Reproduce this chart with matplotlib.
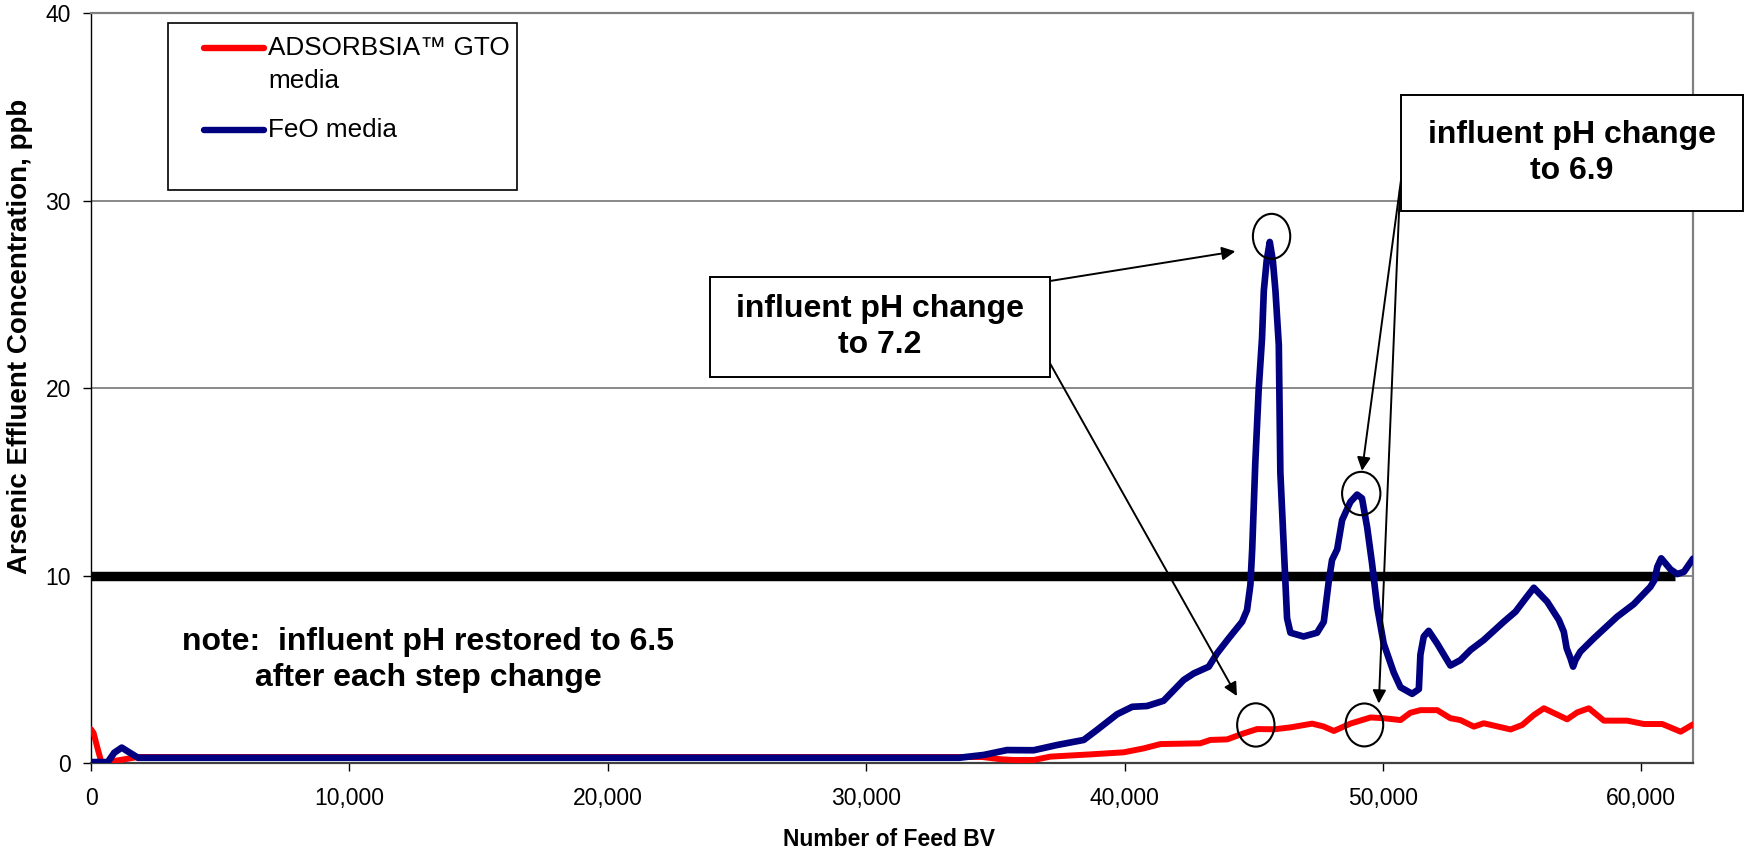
import matplotlib
matplotlib.use('Agg')
import matplotlib.pyplot as plt
from matplotlib.patches import Rectangle, Ellipse
from matplotlib.lines import Line2D
from matplotlib.ticker import FuncFormatter

plt.rcParams['font.family'] = ['Liberation Sans', 'DejaVu Sans']

# ---------------- data ----------------
feo_x = [0, 650, 900, 1190, 1500, 1820, 33600, 34550, 35450, 36480, 37390, 38420,
         38930, 39710, 40300, 40870, 41510, 42290, 42680, 43260, 43580, 44030,
         44550, 44740, 44870, 44940, 45060, 45190, 45320, 45390, 45500, 45620,
         45740, 45840, 45970, 46030, 46160, 46290, 46420, 46930, 47450, 47710,
         47900, 48030, 48230, 48420, 48740, 49000, 49190, 49390, 49580, 49780,
         50030, 50420, 50680, 51130, 51390, 51450, 51580, 51770, 52100, 52610,
         53000, 53390, 53900, 54680, 55130, 55520, 55840, 56360, 56810, 57000,
         57110, 57260, 57360, 57450, 57640, 58160, 59060, 59710, 60350, 60510,
         60620, 60770, 61130, 61390, 61650, 62000]
feo_y = [0.05, 0.05, 0.55, 0.82, 0.55, 0.28, 0.28, 0.43, 0.69, 0.68, 0.96, 1.23,
         1.76, 2.6, 3.0, 3.04, 3.32, 4.43, 4.78, 5.14, 5.85, 6.65,
         7.54, 8.16, 9.5, 11.4, 16.0, 19.9, 22.65, 25.2, 26.8, 27.8,
         26.8, 25.2, 22.3, 15.5, 11.6, 7.72, 6.95, 6.75, 6.95, 7.53,
         9.66, 10.83, 11.4, 12.96, 13.93, 14.32, 14.12, 12.57, 10.63, 8.3,
         6.37, 4.82, 4.04, 3.69, 3.94, 5.78, 6.75, 7.05, 6.37, 5.2,
         5.49, 6.03, 6.56, 7.54, 8.07, 8.78, 9.35, 8.6, 7.63, 7.0,
         6.12, 5.58, 5.14, 5.49, 5.94, 6.65, 7.8, 8.48, 9.4, 9.76,
         10.47, 10.92, 10.33, 10.08, 10.2, 10.9]

gto_x = [0, 100, 250, 400, 650, 1820, 34500, 35200, 35710, 36480, 37130, 38680,
         39970, 40740, 41390, 42930, 43320, 43970, 44610, 45130, 45800, 46420,
         47260, 47700, 48100, 48740, 49520, 50030, 50680, 51060, 51450, 52100,
         52610, 53000, 53520, 53900, 54940, 55390, 55840, 56230, 57130, 57520,
         57970, 58550, 59450, 60100, 60810, 61520, 62000]
gto_y = [1.8, 1.6, 0.8, 0.05, 0.05, 0.32, 0.32, 0.2, 0.16, 0.16, 0.34, 0.46,
         0.57, 0.78, 1.01, 1.05, 1.23, 1.26, 1.58, 1.81, 1.8, 1.9,
         2.1, 1.95, 1.71, 2.1, 2.43, 2.39, 2.29, 2.68, 2.82, 2.82,
         2.39, 2.29, 1.94, 2.12, 1.79, 2.03, 2.56, 2.92, 2.33, 2.7,
         2.92, 2.26, 2.26, 2.08, 2.08, 1.67, 2.06]

mcl_x = [0, 61300]
mcl_y = [10, 10]

x_ticks = [0, 10000, 20000, 30000, 40000, 50000, 60000]
y_ticks = [0, 10, 20, 30, 40]

series_labels = ["ADSORBSIA\u2122 GTO\nmedia", "FeO media"]
circle_centers = [(45690, 28.1), (49160, 14.38), (45080, 2.03), (49280, 2.03)]
arrow_tips = [(44290, 27.3), (44350, 3.57), (49190, 15.59), (49840, 3.17)]

# ---------------- figure ----------------
W, H = 1747, 851
fig = plt.figure(figsize=(W / 100, H / 100), dpi=100)
fig.patch.set_facecolor('white')

def fx(px):
    return px / W

def fy(py):
    return 1 - py / H

ax = fig.add_axes([fx(91), fy(763), (1693 - 91) / W, (763 - 13.3) / H])
ax.set_xlim(0, 62000)
ax.set_ylim(0, 40)
ax.set_xticks(x_ticks)
ax.set_yticks(y_ticks)
ax.xaxis.set_major_formatter(FuncFormatter(lambda v, p: f"{int(v):,}"))
ax.yaxis.set_major_formatter(FuncFormatter(lambda v, p: f"{int(v)}"))
ax.tick_params(axis='both', direction='out', length=6, width=1, color='black',
               labelsize=16.5, labelcolor='black')
ax.tick_params(axis='x', pad=11.5)
ax.tick_params(axis='y', pad=8.5)
ax.grid(axis='y', color='#808080', lw=1.3)
ax.set_axisbelow(True)

ax.spines['left'].set_color('black')
ax.spines['left'].set_linewidth(1.0)
ax.spines['bottom'].set_color('#404040')
ax.spines['bottom'].set_linewidth(1.6)
for s in ('top', 'right'):
    ax.spines[s].set_color('#808080')
    ax.spines[s].set_linewidth(1.6)

ax.plot(mcl_x, mcl_y, color='black', lw=6.8, solid_capstyle='butt', zorder=3)
ax.plot(gto_x, gto_y, color='#FF0000', lw=4.3, solid_joinstyle='round',
        solid_capstyle='round', zorder=4)
ax.plot(feo_x, feo_y, color='#000080', lw=4.8, solid_joinstyle='round',
        solid_capstyle='round', zorder=5)

circle_sizes = [(1445, 2.4), (1483, 2.31), (1445, 2.31), (1460, 2.29)]
for (cx, cy), (w, h) in zip(circle_centers, circle_sizes):
    ax.add_patch(Ellipse((cx, cy), w, h, fill=False, edgecolor='black', lw=1.5, zorder=6))

bold = dict(fontsize=23, fontweight='bold', color='black')
boxes = [((710, 277, 1050, 377), "influent pH change\nto 7.2"),
         ((1401, 95, 1743, 211), "influent pH change\nto 6.9")]
for (x0, y0, x1, y1), txt in boxes:
    fig.add_artist(Rectangle((fx(x0), fy(y1)), (x1 - x0) / W, (y1 - y0) / H,
                             transform=fig.transFigure, facecolor='white',
                             edgecolor='black', lw=1.4, zorder=7))
    fig.text(fx((x0 + x1) / 2), fy((y0 + y1) / 2), txt, ha='center', va='center',
             linespacing=1.3, zorder=8, **bold)

arrow_starts = [(1050, 281), (1047, 358), (1401, 180), (1400, 188)]
for (sx, sy), tip in zip(arrow_starts, arrow_tips):
    ax.annotate('', xy=tip, xycoords='data', xytext=(sx, H - sy),
                textcoords='figure pixels', annotation_clip=False,
                arrowprops=dict(arrowstyle='-|>', color='black', lw=1.4,
                                mutation_scale=20, shrinkA=0, shrinkB=0),
                zorder=9)

fig.text(fx(428), fy(660), "note:  influent pH restored to 6.5\nafter each step change",
         ha='center', va='center', linespacing=1.3, **bold)

# legend (manual)
fig.add_artist(Rectangle((fx(168), fy(190)), (517 - 168) / W, (190 - 23) / H,
                         transform=fig.transFigure, facecolor='white',
                         edgecolor='black', lw=1.2, zorder=7))
fig.add_artist(Line2D([fx(204), fx(264)], [fy(48), fy(48)], transform=fig.transFigure,
                      color='#FF0000', lw=4.6, solid_capstyle='round', zorder=8))
fig.add_artist(Line2D([fx(204), fx(264)], [fy(130), fy(130)], transform=fig.transFigure,
                      color='#000080', lw=4.6, solid_capstyle='round', zorder=8))
leg_font = dict(fontsize=18.8, zorder=8, ha='left', va='center')
fig.text(fx(268), fy(48), series_labels[0].split('\n')[0], **leg_font)
fig.text(fx(268), fy(81), series_labels[0].split('\n')[1], **leg_font)
fig.text(fx(268), fy(130), series_labels[1], **leg_font)

fig.text(fx(889), fy(839), "Number of Feed BV", ha='center', va='center',
         fontsize=16.5, fontweight='bold')
fig.text(fx(20), fy(336), "Arsenic Effluent Concentration, ppb", ha='center',
         va='center', rotation=90, fontsize=20, fontweight='bold')

fig.savefig('out.png', dpi=100, facecolor='white')
